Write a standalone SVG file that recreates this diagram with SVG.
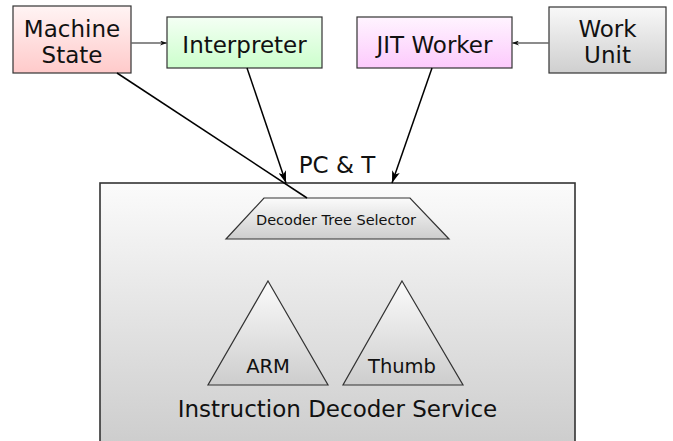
<svg xmlns="http://www.w3.org/2000/svg" width="673" height="441" viewBox="0 0 673 441">
  <defs>
    <linearGradient id="gPink" x1="0" y1="0" x2="0" y2="1">
      <stop offset="0" stop-color="#fff4f4"/>
      <stop offset="1" stop-color="#ffcaca"/>
    </linearGradient>
    <linearGradient id="gGreen" x1="0" y1="0" x2="0" y2="1">
      <stop offset="0" stop-color="#f4fff4"/>
      <stop offset="1" stop-color="#ccffcc"/>
    </linearGradient>
    <linearGradient id="gMagenta" x1="0" y1="0" x2="0" y2="1">
      <stop offset="0" stop-color="#fff4ff"/>
      <stop offset="1" stop-color="#fccafc"/>
    </linearGradient>
    <linearGradient id="gGray" x1="0" y1="0" x2="0" y2="1">
      <stop offset="0" stop-color="#f8f8f8"/>
      <stop offset="1" stop-color="#cfcfcf"/>
    </linearGradient>
    <linearGradient id="gService" x1="0" y1="0" x2="0" y2="1">
      <stop offset="0" stop-color="#fbfbfb"/>
      <stop offset="1" stop-color="#cdcdcd"/>
    </linearGradient>
    <marker id="bigArrow" viewBox="0 0 12 8" refX="12" refY="4" markerWidth="12" markerHeight="8" markerUnits="userSpaceOnUse" orient="auto">
      <path d="M0,0 L12,4 L0,8 L3,4 Z" fill="#000"/>
    </marker>
    <marker id="smallArrow" viewBox="0 0 7 5" refX="7" refY="2.5" markerWidth="7" markerHeight="5" markerUnits="userSpaceOnUse" orient="auto">
      <path d="M0,0 L7,2.5 L0,5 L2,2.5 Z" fill="#111"/>
    </marker>
  </defs>
  <style>
    .box { stroke: #333; stroke-width: 1.2; }
    .label { font-family: "DejaVu Sans", Verdana, sans-serif; fill: #111; text-anchor: middle; }
    .big { font-size: 23px; }
    .mid { font-size: 19.5px; }
    .small { font-size: 14.5px; }
    .conn { stroke: #000; stroke-width: 1.5; fill: none; }
    .thin { stroke: #666; stroke-width: 1.5; fill: none; }
  </style>

  <!-- service container -->
  <g id="service">
    <rect x="100" y="183" width="475" height="262" fill="url(#gService)" stroke="#333" stroke-width="1.6"/>
    <text class="label big" x="337.5" y="417">Instruction Decoder Service</text>
  </g>

  <g id="selector">
    <polygon class="box" points="264,198 410,198 449,239 226,239" fill="url(#gService)"/>
    <text class="label small" x="336" y="225">Decoder Tree Selector</text>
  </g>

  <g id="arm">
    <polygon class="box" points="268,281 328,385 208,385" fill="url(#gService)"/>
    <text class="label mid" x="268" y="373">ARM</text>
  </g>

  <g id="thumb">
    <polygon class="box" points="402,281 463,385 343,385" fill="url(#gService)"/>
    <text class="label mid" x="402" y="373">Thumb</text>
  </g>

  <g id="machine-state">
    <rect class="box" x="13" y="6" width="118" height="67" fill="url(#gPink)"/>
    <text class="label big" x="72" y="37">Machine</text>
    <text class="label big" x="72" y="63">State</text>
  </g>

  <g id="interpreter">
    <rect class="box" x="167" y="17" width="155" height="51" fill="url(#gGreen)"/>
    <text class="label big" x="244.5" y="53">Interpreter</text>
  </g>

  <g id="jit-worker">
    <rect class="box" x="357" y="17" width="155" height="51" fill="url(#gMagenta)"/>
    <text class="label big" x="434.5" y="53">JIT Worker</text>
  </g>

  <g id="work-unit">
    <rect class="box" x="549" y="7" width="117" height="66" fill="url(#gGray)"/>
    <text class="label big" x="607.5" y="37">Work</text>
    <text class="label big" x="607.5" y="63">Unit</text>
  </g>

  <g id="connectors">
    <line class="thin" x1="131" y1="43" x2="167" y2="43" marker-end="url(#smallArrow)"/>
    <line class="thin" x1="549" y1="43" x2="512" y2="43" marker-end="url(#smallArrow)"/>
    <line class="conn" x1="247" y1="68" x2="286" y2="183" marker-end="url(#bigArrow)"/>
    <line class="conn" x1="432" y1="68" x2="392" y2="183" marker-end="url(#bigArrow)"/>
    <line class="conn" x1="117" y1="73" x2="307" y2="198"/>
    <text class="label big" x="337" y="173">PC &amp; T</text>
  </g>
</svg>
